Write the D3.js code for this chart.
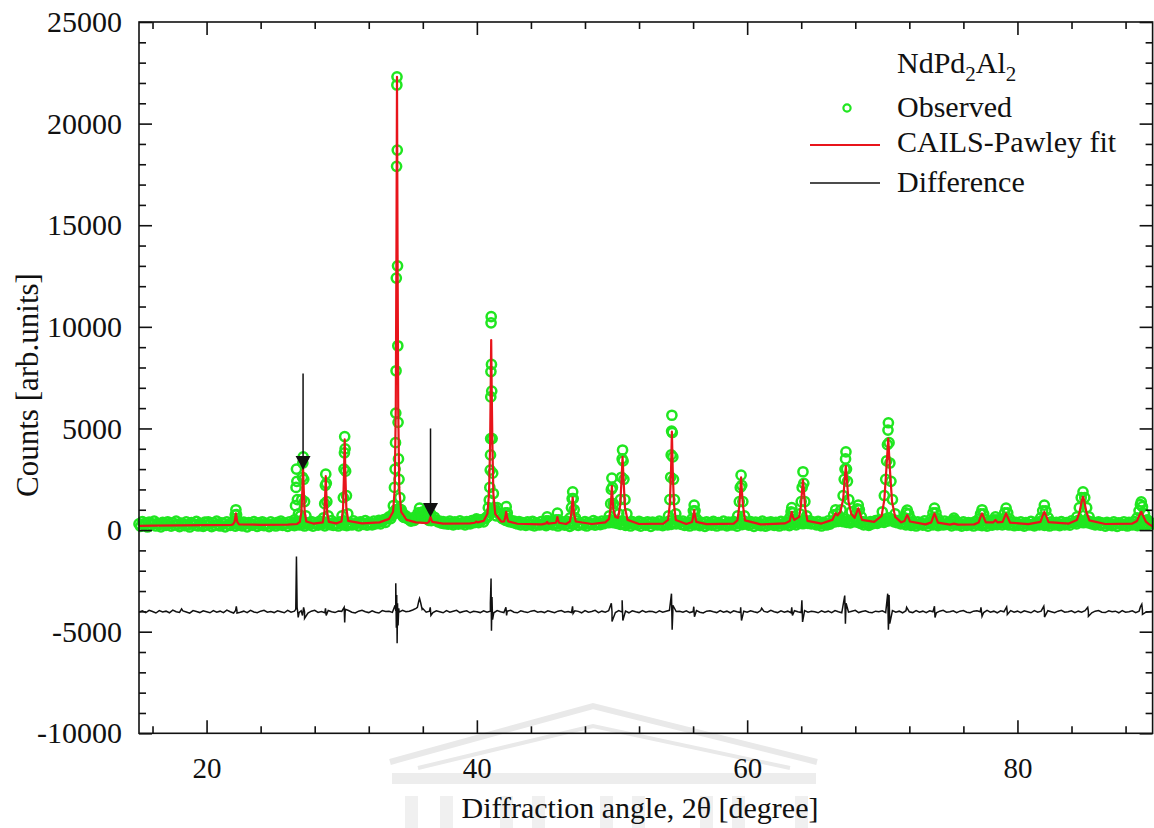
<!DOCTYPE html>
<html>
<head>
<meta charset="utf-8">
<script src="https://cdn.jsdelivr.net/npm/d3@7"></script>
<style>
  body { margin: 0; background: #fff; }
  svg { display: block; }
  text { font-family: "Liberation Serif", "Times New Roman", serif; fill: #111; }
</style>
</head>
<body>
<svg id="chart" width="1154" height="828"></svg>
<script>
// ---- data (2theta in degrees, counts) ----
const gridStart = 15;
const obsStep = 0.125;   // observed background sampled every 0.125 deg, 15..90
const diffStep = 0.25;   // difference background every 0.25 deg, 15..90

// observed background between peaks (scatter of the green band)
const obsBackground = [
  300, 180, 420, 260, 350, 150, 390, 240, 310, 440, 200, 330, 270, 160, 380, 290, 230, 410, 320, 190, 360, 250, 440, 280, 170, 340, 300, 220, 400, 260, 150, 370, 310, 240, 430, 200, 330, 280, 180, 390,
  250, 410, 300, 170, 360, 230, 440, 290, 200, 350, 320, 160, 400, 270, 230, 380, 310, 190, 430, 260, 340, 210, 390, 300, 160, 370, 280, 240, 420, 310, 180, 350, 260, 410, 220, 330, 290, 170, 400, 270,
  320, 200, 380, 270, 440, 230, 350, 300, 180, 410, 280, 340, 220, 390, 310, 250, 450, 290, 200, 360, 330, 260, 420, 190, 370, 300, 240, 440, 280, 350, 210, 390, 320, 270, 460, 230, 340, 300, 200, 400,
  310, 260, 430, 220, 370, 330, 250, 450, 290, 360, 210, 410, 320, 280, 470, 240, 380, 330, 260, 440, 300, 360, 480, 300, 420, 520, 380, 560, 650, 560, 750, 900, 1000, 900, 1050, 780, 850, 620, 700, 560,
  520, 440, 600, 480, 560, 700, 620, 800, 900, 780, 680, 560, 600, 460, 520, 620, 480, 400, 440, 340, 420, 310, 380, 290, 440, 330, 260, 400, 350, 290, 450, 320, 380, 260, 420, 340, 300, 460, 360, 400,
  480, 370, 430, 520, 400, 560, 640, 700, 850, 900, 1000, 900, 1100, 820, 700, 560, 620, 480, 540, 420, 480, 380, 440, 330, 300, 420, 260, 370, 330, 230, 400, 300, 260, 430, 210, 350, 310, 250, 420, 280,
  330, 220, 390, 300, 430, 260, 350, 310, 200, 410, 290, 360, 240, 440, 300, 180, 380, 270, 330, 450, 230, 350, 300, 260, 420, 200, 370, 320, 280, 460, 240, 390, 330, 270, 440, 310, 380, 450, 360, 480,
  420, 360, 480, 330, 400, 280, 450, 310, 230, 380, 340, 200, 420, 280, 350, 260, 430, 190, 370, 300, 240, 410, 320, 180, 390, 280, 350, 250, 440, 300, 220, 380, 330, 260, 450, 280, 350, 400, 300, 460,
  370, 280, 440, 230, 360, 300, 200, 410, 330, 260, 450, 290, 220, 380, 310, 180, 400, 270, 350, 240, 430, 300, 200, 370, 320, 260, 440, 280, 210, 390, 340, 250, 420, 300, 190, 380, 330, 270, 450, 310,
  360, 240, 420, 300, 180, 390, 280, 340, 220, 440, 300, 190, 370, 260, 410, 320, 230, 380, 290, 200, 430, 310, 260, 400, 340, 220, 450, 300, 380, 260, 470, 350, 420, 310, 480, 390, 330, 450, 300, 400,
  340, 260, 430, 300, 200, 380, 320, 250, 450, 290, 380, 470, 400, 520, 430, 560, 480, 410, 540, 380, 460, 350, 500, 420, 560, 390, 470, 330, 420, 260, 390, 310, 230, 420, 300, 360, 460, 330, 500, 410,
  480, 380, 550, 440, 600, 470, 520, 400, 480, 360, 430, 300, 400, 340, 260, 430, 320, 230, 390, 300, 200, 410, 280, 350, 240, 450, 310, 190, 380, 330, 260, 420, 290, 220, 400, 320, 250, 440, 280, 360,
  300, 210, 410, 320, 250, 380, 280, 190, 400, 300, 230, 370, 270, 340, 200, 420, 300, 250, 390, 220, 330, 280, 190, 360, 300, 240, 430, 310, 270, 400, 350, 260, 450, 300, 380, 250, 410, 290, 220, 380,
  320, 240, 400, 280, 190, 370, 300, 250, 430, 270, 210, 390, 320, 260, 440, 300, 230, 360, 280, 200, 410, 330, 250, 380, 290, 220, 420, 310, 260, 370, 330, 240, 450, 350, 400, 300, 480, 380, 450, 360,
  420, 480, 350, 420, 300, 380, 260, 330, 410, 240, 350, 300, 190, 380, 270, 320, 220, 400, 290, 180, 360, 300, 240, 410, 270, 200, 380, 330, 250, 430, 300, 220, 390, 340, 280, 450, 320, 260, 400, 350,
  300
];

// observed points on the Bragg peaks
const obsPeaks = [
  [22.05, 450], [22.12, 750], [22.17, 1000], [22.22, 760], [22.3, 450],
  [26.5, 500], [26.58, 1200], [26.62, 2100], [26.65, 3000], [26.68, 2400], [26.72, 1500], [26.8, 800],
  [26.95, 700], [27.04, 1500], [27.09, 2600], [27.12, 3300], [27.15, 3600], [27.19, 2500], [27.25, 1400], [27.35, 700],
  [28.65, 600], [28.74, 1300], [28.79, 2200], [28.82, 2750], [28.86, 2300], [28.9, 1400], [29.0, 700],
  [30.02, 700], [30.12, 1600], [30.17, 3000], [30.2, 3800], [30.22, 4600], [30.25, 4000], [30.29, 2900], [30.35, 1700], [30.45, 800],
  [33.7, 700], [33.82, 1200], [33.9, 2100], [33.95, 3000], [33.98, 4300], [34.0, 5760], [34.02, 7840], [34.04, 12400],
  [34.06, 17900], [34.08, 21900], [34.09, 22300], [34.11, 18700], [34.13, 13000], [34.15, 9070], [34.17, 5300],
  [34.2, 3500], [34.24, 2500], [34.3, 1600], [34.4, 1000], [34.55, 650],
  [35.55, 600], [35.65, 850], [35.76, 1080], [35.87, 850], [35.98, 600],
  [36.45, 480], [36.53, 700], [36.58, 800], [36.65, 600],
  [39.9, 450], [39.97, 550], [40.05, 440],
  [40.75, 650], [40.85, 1100], [40.92, 1480], [40.96, 2100], [40.99, 2950], [41.01, 3700], [41.02, 4500], [41.03, 6550],
  [41.04, 7800], [41.05, 10200], [41.06, 10500], [41.08, 8150], [41.1, 6840], [41.13, 4500], [41.17, 2800],
  [41.22, 1800], [41.3, 1100], [41.42, 700],
  [42.0, 550], [42.1, 850], [42.17, 1150], [42.25, 850], [42.35, 550],
  [45.12, 450], [45.2, 650], [45.28, 450],
  [45.86, 500], [45.96, 830], [46.06, 500],
  [46.9, 600], [47.0, 1100], [47.05, 1550], [47.09, 1880], [47.13, 1550], [47.2, 1000], [47.3, 600],
  [49.8, 700], [49.9, 1300], [49.95, 2000], [49.99, 2560], [50.03, 2100], [50.1, 1300], [50.2, 900],
  [50.5, 800], [50.62, 1500], [50.7, 2600], [50.75, 3500], [50.78, 3940], [50.82, 3400], [50.88, 2500], [50.96, 1500], [51.1, 800],
  [54.18, 700], [54.28, 1500], [54.34, 2600], [54.38, 3700], [54.41, 4870], [54.43, 5650], [54.46, 4800],
  [54.5, 3600], [54.55, 2500], [54.62, 1500], [54.72, 800],
  [55.92, 550], [56.02, 950], [56.08, 1230], [56.14, 950], [56.25, 550],
  [59.3, 700], [59.42, 1400], [59.49, 2100], [59.55, 2700], [59.6, 2200], [59.68, 1400], [59.8, 700],
  [63.15, 600], [63.25, 900], [63.3, 1100], [63.38, 850],
  [63.9, 800], [64.0, 1400], [64.07, 2100], [64.13, 2870], [64.19, 2300], [64.27, 1400], [64.4, 700],
  [66.4, 750], [66.55, 1000], [66.68, 800],
  [66.95, 1000], [67.1, 1700], [67.18, 2500], [67.24, 3000], [67.28, 3500], [67.31, 3850], [67.35, 3000],
  [67.42, 2400], [67.52, 1500], [67.7, 900],
  [68.05, 800], [68.15, 1050], [68.22, 1230], [68.3, 1000], [68.45, 650],
  [70.0, 900], [70.15, 1700], [70.25, 2500], [70.32, 3400], [70.38, 4200], [70.42, 4920], [70.45, 5280],
  [70.5, 4300], [70.56, 3300], [70.64, 2400], [70.75, 1500], [70.95, 800],
  [71.65, 600], [71.75, 850], [71.84, 985], [71.95, 800], [72.1, 550],
  [73.62, 550], [73.75, 850], [73.86, 1080], [73.97, 850], [74.12, 550],
  [75.2, 480], [75.3, 590], [75.42, 470],
  [77.15, 550], [77.27, 800], [77.38, 1000], [77.5, 800], [77.65, 520],
  [78.25, 500], [78.37, 650], [78.5, 500],
  [78.92, 550], [79.05, 850], [79.16, 1080], [79.28, 850], [79.42, 550],
  [81.72, 600], [81.87, 950], [81.99, 1230], [82.1, 950], [82.28, 600],
  [84.4, 650], [84.58, 1100], [84.72, 1600], [84.85, 1880], [84.98, 1600], [85.12, 1100], [85.3, 650],
  [88.85, 600], [89.0, 950], [89.1, 1250], [89.16, 1390], [89.25, 1150], [89.4, 800], [89.6, 500]
];

// CAILS-Pawley fit curve
const fitPoints = [
  [15, 210], [16, 220], [18, 230], [20, 240], [21.8, 250],
  [21.95, 280], [22.07, 400], [22.13, 650], [22.17, 820], [22.21, 650], [22.27, 400], [22.4, 280],
  [24, 260], [26, 270], [26.7, 300],
  [26.9, 400], [27.02, 900], [27.09, 2000], [27.14, 3050], [27.19, 2000], [27.26, 900], [27.38, 420],
  [27.9, 320],
  [28.6, 380], [28.72, 900], [28.78, 1800], [28.82, 2650], [28.86, 1800], [28.93, 850], [29.05, 400],
  [29.6, 330],
  [29.98, 420], [30.1, 1100], [30.17, 2800], [30.22, 4460], [30.27, 2800], [30.34, 1100], [30.48, 450],
  [31.5, 330], [32.8, 380], [33.5, 550],
  [33.8, 900], [33.92, 2000], [34.0, 6000], [34.05, 14000], [34.09, 22300], [34.13, 14000], [34.18, 6000], [34.26, 2000], [34.4, 900],
  [34.8, 500], [35.5, 380], [36.3, 340],
  [36.45, 400], [36.53, 560], [36.57, 650], [36.61, 560], [36.7, 400],
  [37.5, 320], [39.5, 330],
  [39.85, 360], [39.95, 420], [40.05, 380],
  [40.5, 450],
  [40.78, 800], [40.9, 1800], [40.98, 4200], [41.02, 6800], [41.06, 9350], [41.1, 6800], [41.15, 4200], [41.22, 1800], [41.36, 800],
  [41.8, 420],
  [42.02, 430], [42.11, 650], [42.17, 900], [42.23, 650], [42.32, 430],
  [43, 310], [44.8, 280],
  [45.12, 330], [45.2, 400], [45.28, 320],
  [45.85, 360], [45.92, 520], [45.96, 640], [46.0, 520], [46.08, 360],
  [46.6, 300],
  [46.88, 420], [46.99, 800], [47.05, 1300], [47.09, 1600], [47.13, 1300], [47.19, 800], [47.32, 420],
  [48.5, 300], [49.5, 380],
  [49.78, 550], [49.9, 1100], [49.96, 1800], [49.99, 2160], [50.03, 1700], [50.1, 1000], [50.25, 650],
  [50.45, 600], [50.6, 1200], [50.7, 2400], [50.78, 3600], [50.86, 2400], [50.96, 1100], [51.15, 500],
  [52, 300], [53.8, 320],
  [54.15, 500], [54.28, 1300], [54.37, 3000], [54.43, 4840], [54.49, 3000], [54.58, 1300], [54.72, 500],
  [55.5, 300],
  [55.92, 400], [56.02, 700], [56.08, 985], [56.14, 700], [56.24, 400],
  [57, 290], [59.0, 320],
  [59.28, 480], [59.42, 1200], [59.5, 2000], [59.55, 2600], [59.6, 2000], [59.69, 1200], [59.84, 480],
  [61, 280], [62.8, 330],
  [63.15, 450], [63.25, 750], [63.3, 900], [63.38, 650], [63.5, 500],
  [63.85, 650], [63.98, 1200], [64.07, 2000], [64.13, 2460], [64.19, 2000], [64.29, 1100], [64.46, 450],
  [65.5, 320], [66.3, 500],
  [66.45, 700], [66.55, 830], [66.68, 720],
  [66.9, 900], [67.1, 1500], [67.22, 2500], [67.3, 3150], [67.38, 2500], [67.5, 1400], [67.7, 800],
  [67.95, 600], [68.12, 900], [68.22, 1070], [68.32, 880], [68.5, 500],
  [69.4, 400],
  [69.95, 700], [70.15, 1500], [70.3, 3000], [70.44, 4500], [70.56, 3000], [70.72, 1400], [70.95, 650],
  [71.4, 380],
  [71.65, 450], [71.77, 650], [71.84, 740], [71.92, 640], [72.05, 420],
  [73.2, 280],
  [73.62, 380], [73.76, 650], [73.86, 820], [73.96, 650], [74.12, 370],
  [75.0, 270], [75.3, 320], [75.6, 270], [76.8, 280],
  [77.12, 370], [77.27, 650], [77.38, 820], [77.49, 650], [77.66, 380],
  [78.22, 380], [78.37, 500], [78.52, 380],
  [78.9, 400], [79.05, 650], [79.16, 820], [79.27, 640], [79.45, 370],
  [80.8, 290],
  [81.7, 400], [81.86, 700], [81.99, 900], [82.12, 700], [82.3, 390],
  [83.8, 320],
  [84.4, 500], [84.6, 900], [84.75, 1400], [84.85, 1640], [84.95, 1400], [85.1, 900], [85.32, 480],
  [86.5, 300], [88.5, 320],
  [88.85, 450], [89.02, 720], [89.16, 900], [89.3, 700], [89.5, 420],
  [89.75, 280], [90, 180]
];

// difference curve (plotted with -4000 offset)
const diffBackground = [
  -4040, -3970, -4060, -3950, -4010, -4080, -3960, -4030, -3990, -4070, -3940, -4020, -4050, -3980, -4030, -4090, -3960, -4010, -4060, -3970,
  -4020, -4070, -3960, -4040, -3990, -4060, -3940, -4020, -4080, -3970, -4040, -3990, -4060, -3950, -4030, -4070, -3990, -3950, -4040, -4010,
  -4060, -3970, -4020, -4070, -3950, -4040, -3990, -4060, -3970, -4020, -4080, -3990, -3950, -4050, -4010, -4070, -3960, -4020, -4060, -3980,
  -4000, -4060, -3960, -4040, -4080, -3990, -3950, -4020, -4060, -3970, -4040, -4080, -3960, -4010, -4000, -4050, -3980, -4040, -3950, -4020,
  -3990, -3930, -3850, -3380, -3860, -4040, -3990, -4060, -3970, -4020, -4070, -3960, -4040, -3990, -3950, -4060, -4010, -3970, -4070, -4000,
  -4020, -4060, -3970, -4040, -3990, -4070, -3960, -4020, -4060, -3990, -3950, -4040, -4070, -3970, -4020, -4060, -3990, -3960, -4040, -4010,
  -4060, -3970, -4020, -4070, -3990, -3960, -4040, -4010, -4060, -3970, -4000, -4070, -3960, -4040, -4010, -3950, -4060, -3990, -4040, -3970,
  -4020, -4060, -3960, -4040, -3990, -4070, -3970, -4020, -4060, -3960, -4040, -3990, -4010, -4070, -3970, -4040, -3990, -3950, -4060, -4010,
  -3990, -4040, -3970, -4060, -4010, -3960, -4040, -4080, -3990, -3970, -4020, -4060, -3960, -4040, -3990, -4070, -3970, -4020, -4060, -3990,
  -4040, -3970, -4020, -4060, -3960, -4000, -4040, -3950, -4020, -4060, -3970, -4040, -3990, -4070, -3970, -4020, -4060, -3960, -4040, -3990,
  -4020, -4070, -3970, -4040, -3990, -4060, -3960, -4020, -4070, -3970, -4040, -3990, -3950, -4060, -4010, -3970, -4040, -4070, -3990, -4020,
  -3970, -4060, -4020, -3960, -4040, -3990, -4070, -3970, -4020, -4060, -3960, -4040, -3990, -4060, -3970, -4020, -4070, -3990, -3950, -4040,
  -4020, -3970, -4060, -3990, -3960, -4040, -4070, -3990, -3970, -4020, -4060, -3950, -4040, -3990, -4070, -3970, -4020, -4060, -3960, -4040,
  -3990, -4060, -3970, -4020, -4070, -3960, -4040, -3990, -4060, -3970, -4020, -4070, -3990, -3950, -4040, -4020, -3970, -4060, -3990, -4040,
  -3970, -4020, -4070, -3990, -3960, -4040, -4060, -3970, -4020, -3990, -4070, -3960, -4040, -4020, -3970, -4060, -3990, -3950, -4040, -4020,
  -4000
];

// difference spikes at the peaks
const diffSpikes = [
  [18.15, -3880], [22.15, -3950], [22.2, -3750], [22.25, -4080],
  [26.6, -3900], [26.65, -1300], [26.7, -3800], [26.78, -4300], [26.85, -4050],
  [27.1, -4200], [27.18, -3800], [27.25, -4350], [28.8, -3850], [28.85, -4200],
  [30.18, -3800], [30.22, -4550], [30.27, -3900],
  [33.95, -3700], [34.0, -2620], [34.04, -4800], [34.07, -3200], [34.1, -5570], [34.13, -3600], [34.17, -4700], [34.22, -3850],
  [35.6, -3800], [35.7, -3500], [35.76, -3360], [35.85, -3600], [35.95, -3900],
  [36.55, -3800], [36.6, -4200],
  [41.0, -3600], [41.05, -2380], [41.08, -4950], [41.12, -3300], [41.16, -4400],
  [42.15, -3800], [42.2, -4200], [47.08, -3750], [47.12, -4100],
  [49.95, -3600], [50.0, -4500], [50.75, -3450], [50.8, -4450],
  [54.4, -3130], [54.45, -4900], [54.5, -3700], [56.05, -3770], [56.1, -4260],
  [59.52, -3800], [59.58, -4450], [61.07, -3850], [63.3, -3800], [63.35, -4200],
  [64.05, -3460], [64.1, -4520], [67.22, -3220], [67.27, -4610], [67.32, -3600],
  [70.4, -3130], [70.45, -4900], [70.5, -3200], [70.55, -4600],
  [71.8, -3800], [73.86, -3750], [73.9, -4300], [77.3, -3800], [77.38, -4250],
  [79.2, -3780], [79.25, -4150], [81.95, -3750], [82.0, -4280], [85.2, -3800], [85.25, -4250],
  [89.1, -3780], [89.2, -3650], [89.25, -4150]
];

// impurity markers
const arrowPos = [27.14, 36.57];
const arrowTop = [7700, 5000];
const arrowTip = [2950, 640];

const xMajor = [20, 40, 60, 80];
const yMajor = [-10000, -5000, 0, 5000, 10000, 15000, 20000, 25000];
const legendLabels = ["Observed", "CAILS-Pawley fit", "Difference"];

// ---- layout ----
const plotL = 139, plotT = 22, plotR = 1152.6, plotB = 733.3;
const green = "#20e620", red = "#e8141b";

const svg = d3.select("#chart");
const x = d3.scaleLinear().domain([15, 90]).range([plotL, plotR]);
const y = d3.scaleLinear().domain([-10000, 25000]).range([plotB, plotT]);

// faint watermark behind the axis title
const wm = svg.append("g").attr("fill", "none").attr("stroke", "#e9e9e9");
wm.append("path").attr("d", "M390,762 L593,706 L817,762").attr("stroke-width", 6);
wm.append("path").attr("d", "M418,768 L593,726 L790,768").attr("stroke-width", 4);
wm.append("rect").attr("x", 392).attr("y", 773).attr("width", 424).attr("height", 11)
  .attr("fill", "#ededed").attr("stroke", "none");
[405, 440, 500, 532, 600, 632, 700, 732, 795].forEach(cx => {
  wm.append("rect").attr("x", cx).attr("y", 796).attr("width", 13).attr("height", 32)
    .attr("fill", "#f0f0f0").attr("stroke", "none");
});

svg.append("clipPath").attr("id", "plot-clip")
  .append("rect").attr("x", plotL).attr("y", plotT).attr("width", plotR - plotL).attr("height", plotB - plotT);

// observed points
const observed = obsBackground.map((c, i) => [gridStart + i * obsStep, c]).concat(obsPeaks);
svg.append("g").selectAll("circle")
  .data(observed)
  .enter().append("circle")
  .attr("cx", d => x(d[0]))
  .attr("cy", d => y(d[1]))
  .attr("r", 4.6)
  .attr("fill", "none")
  .attr("stroke", green)
  .attr("stroke-width", 2.5);

const line = d3.line().x(d => x(d[0])).y(d => y(d[1]));

// fit
svg.append("path")
  .attr("clip-path", "url(#plot-clip)")
  .attr("d", line(fitPoints))
  .attr("fill", "none")
  .attr("stroke", red)
  .attr("stroke-width", 2.2)
  .attr("stroke-linejoin", "round");

// difference
const diff = diffBackground.map((c, i) => [gridStart + i * diffStep, c])
  .concat(diffSpikes)
  .sort((a, b) => a[0] - b[0]);
svg.append("path")
  .attr("clip-path", "url(#plot-clip)")
  .attr("d", line(diff))
  .attr("fill", "none")
  .attr("stroke", "#111")
  .attr("stroke-width", 1.5);

// arrows
arrowPos.forEach((p, i) => {
  const ax = x(p), tip = y(arrowTip[i]);
  svg.append("line")
    .attr("x1", ax).attr("x2", ax)
    .attr("y1", y(arrowTop[i])).attr("y2", tip - 10)
    .attr("stroke", "#111").attr("stroke-width", 1.5);
  svg.append("path")
    .attr("d", `M${ax - 7.5},${tip - 14} L${ax + 7.5},${tip - 14} L${ax},${tip} Z`)
    .attr("fill", "#111");
});

// ---- axes (ticks pointing inward on all four sides) ----
const xMinor = d3.range(16, 90, 4).filter(v => v % 20 !== 0);
const yMinor = d3.range(-10000, 25001, 1000).filter(v => v % 5000 !== 0);

function addAxis(axis, transform, isLabelled) {
  const g = svg.append("g").attr("transform", transform).call(axis);
  g.select(".domain").remove();
  g.selectAll("line").attr("stroke", "#111").attr("stroke-width", 1.6);
  if (!isLabelled) g.selectAll("text").remove();
  return g;
}

const xb = addAxis(d3.axisBottom(x).tickValues(xMajor).tickSize(-13).tickPadding(24).tickFormat(d => String(d)),
  `translate(0,${plotB})`, true);
xb.selectAll("text").attr("font-size", 29).attr("fill", "#111");
addAxis(d3.axisBottom(x).tickValues(xMinor).tickSize(-7), `translate(0,${plotB})`, false);
addAxis(d3.axisTop(x).tickValues(xMajor).tickSize(-13), `translate(0,${plotT})`, false);
addAxis(d3.axisTop(x).tickValues(xMinor).tickSize(-7), `translate(0,${plotT})`, false);

const yl = addAxis(d3.axisLeft(y).tickValues(yMajor).tickSize(-13).tickPadding(17).tickFormat(d => String(d)),
  `translate(${plotL},0)`, true);
yl.selectAll("text").attr("font-size", 30).attr("fill", "#111");
addAxis(d3.axisLeft(y).tickValues(yMinor).tickSize(-7), `translate(${plotL},0)`, false);
addAxis(d3.axisRight(y).tickValues(yMajor).tickSize(-13), `translate(${plotR},0)`, false);
addAxis(d3.axisRight(y).tickValues(yMinor).tickSize(-7), `translate(${plotR},0)`, false);

// frame
svg.append("rect")
  .attr("x", plotL).attr("y", plotT)
  .attr("width", plotR - plotL).attr("height", plotB - plotT)
  .attr("fill", "none").attr("stroke", "#111").attr("stroke-width", 1.6);

// axis titles
svg.append("text")
  .attr("x", 640).attr("y", 818)
  .attr("text-anchor", "middle")
  .attr("font-size", 30)
  .text("Diffraction angle, 2θ [degree]");

svg.append("text")
  .attr("transform", "translate(27,385) rotate(-90)")
  .attr("text-anchor", "middle")
  .attr("dominant-baseline", "central")
  .attr("font-size", 31)
  .text("Counts [arb.units]");

// ---- legend ----
const title = svg.append("text").attr("x", 897).attr("y", 73).attr("font-size", 30);
title.append("tspan").text("NdPd");
title.append("tspan").attr("dy", 8).attr("font-size", 21).text("2");
title.append("tspan").attr("dy", -8).text("Al");
title.append("tspan").attr("dy", 8).attr("font-size", 21).text("2");

const legendY = [117, 152, 192];
legendLabels.forEach((label, i) => {
  svg.append("text").attr("x", 897).attr("y", legendY[i]).attr("font-size", 30).text(label);
});
svg.append("circle").attr("cx", 847).attr("cy", 108).attr("r", 3.6)
  .attr("fill", "none").attr("stroke", green).attr("stroke-width", 2.2);
svg.append("line").attr("x1", 810).attr("x2", 880).attr("y1", 145).attr("y2", 145)
  .attr("stroke", red).attr("stroke-width", 2.2);
svg.append("line").attr("x1", 810).attr("x2", 880).attr("y1", 183).attr("y2", 183)
  .attr("stroke", "#111").attr("stroke-width", 1.5);
</script>
</body>
</html>
